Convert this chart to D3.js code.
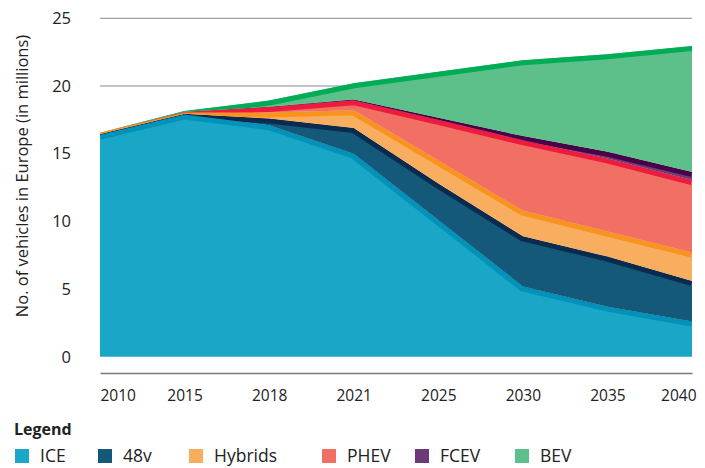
<!DOCTYPE html>
<html>
<head>
<meta charset="utf-8">
<script src="https://cdn.jsdelivr.net/npm/d3@7"></script>
<style>
  body { margin: 0; background: #fff; }
  svg { font-family: "Open Sans", sans-serif; }
</style>
</head>
<body>
<div id="chart"></div>
<script>
// years shown on the x axis (points are equally spaced)
var years = ["2010", "2015", "2018", "2021", "2025", "2030", "2035", "2040"];

// vehicles in Europe, millions
var ice     = [16.4, 17.9, 17.1, 15.0, 10.1, 5.2, 3.7, 2.6];
var v48     = [0.05, 0.05, 0.5, 1.9, 2.7, 3.7, 3.7, 3.0];
var hybrids = [0.1, 0.1, 0.45, 1.3, 1.7, 1.9, 1.85, 2.1];
var phev    = [0, 0.05, 0.4, 0.75, 3.0, 5.2, 5.4, 5.35];
var fcev    = [0, 0, 0.02, 0.05, 0.15, 0.3, 0.5, 0.6];
var bev     = [0, 0.05, 0.45, 1.2, 3.4, 5.6, 7.2, 9.3];

var seriesNames = ["ICE", "48v", "Hybrids", "PHEV", "FCEV", "BEV"];
var yTicks = [0, 5, 10, 15, 20, 25];

var fills   = ["#1aa7c7", "#14587a", "#f9ae5f", "#f26f63", "#6c3b78", "#5dbf8a"];
var strokes = ["#0092b8", "#0a2b4d", "#f7941e", "#ed1b3e", "#4a0048", "#00ad56"];

var data = years.map(function(yr, i) {
  return {
    year: yr,
    "ICE": ice[i],
    "48v": v48[i],
    "Hybrids": hybrids[i],
    "PHEV": phev[i],
    "FCEV": fcev[i],
    "BEV": bev[i]
  };
});

var svgWidth = 705;
var svgHeight = 468;

var svg = d3.select("#chart")
  .append("svg")
  .attr("width", svgWidth)
  .attr("height", svgHeight);

var x = d3.scalePoint()
  .domain(years)
  .range([100, 692]);

var y = d3.scaleLinear()
  .domain([0, 25])
  .range([356.8, 18.3]);

// grid lines
svg.append("g")
  .selectAll("line")
  .data(yTicks.filter(d => d > 0))
  .enter()
  .append("line")
  .attr("x1", 100)
  .attr("x2", 692)
  .attr("y1", d => y(d))
  .attr("y2", d => y(d))
  .attr("stroke", "#8a8a8a")
  .attr("stroke-width", 1);

var stacked = d3.stack().keys(seriesNames)(data);

var area = d3.area()
  .x(d => x(d.data.year))
  .y0(d => y(d[0]))
  .y1(d => y(d[1]));

var topLine = d3.line()
  .x(d => x(d.data.year))
  .y(d => y(d[1]));

var defs = svg.append("defs");

stacked.forEach(function(layer, i) {
  defs.append("clipPath")
    .attr("id", "clip" + i)
    .append("path")
    .attr("d", area(layer));

  svg.append("path")
    .attr("d", area(layer))
    .attr("fill", fills[i]);

  // darker band along the top edge, kept inside the layer
  svg.append("path")
    .attr("d", topLine(layer))
    .attr("fill", "none")
    .attr("stroke", strokes[i])
    .attr("stroke-width", 10)
    .attr("clip-path", "url(#clip" + i + ")");
});

// x axis
var xAxis = svg.append("g")
  .attr("transform", "translate(0, 373)")
  .call(d3.axisBottom(x).tickSize(0).tickSizeOuter(0));

xAxis.select(".domain")
  .attr("stroke", "#7a7a7a")
  .attr("stroke-width", 1.5);

xAxis.selectAll("text")
  .attr("font-family", "Open Sans, sans-serif")
  .attr("font-size", "15.5px")
  .attr("fill", "#222")
  .attr("dy", 0)
  .attr("y", 28);

xAxis.selectAll(".tick").filter(d => d === years[0]).select("text")
  .attr("text-anchor", "start");
xAxis.selectAll(".tick").filter(d => d === years[years.length - 1]).select("text")
  .attr("text-anchor", "end")
  .attr("x", 4);

// y axis
var yAxis = svg.append("g")
  .attr("transform", "translate(71, 0)")
  .call(d3.axisLeft(y).tickValues(yTicks).tickSize(0));

yAxis.select(".domain").remove();
yAxis.selectAll("text")
  .attr("font-family", "Open Sans, sans-serif")
  .attr("font-size", "16.5px")
  .attr("fill", "#222")
  .attr("x", 0);

svg.append("text")
  .attr("transform", "translate(28, 176) rotate(-90)")
  .attr("text-anchor", "middle")
  .attr("font-size", "16.5px")
  .attr("fill", "#222")
  .text("No. of vehicles in Europe (in millions)");

// legend
svg.append("text")
  .attr("x", 14)
  .attr("y", 435)
  .attr("font-size", "16px")
  .attr("font-weight", "bold")
  .attr("fill", "#222")
  .text("Legend");

var legendX = [15, 98, 189, 322, 415, 515];

var legend = svg.append("g")
  .selectAll("g")
  .data(seriesNames)
  .enter()
  .append("g")
  .attr("transform", (d, i) => `translate(${legendX[i]}, 0)`);

legend.append("rect")
  .attr("x", 0)
  .attr("y", 449)
  .attr("width", 14)
  .attr("height", 14)
  .attr("fill", (d, i) => fills[i]);

legend.append("text")
  .attr("x", 25)
  .attr("y", 462)
  .attr("font-size", "17.5px")
  .attr("fill", "#222")
  .text(d => d);
</script>
</body>
</html>
